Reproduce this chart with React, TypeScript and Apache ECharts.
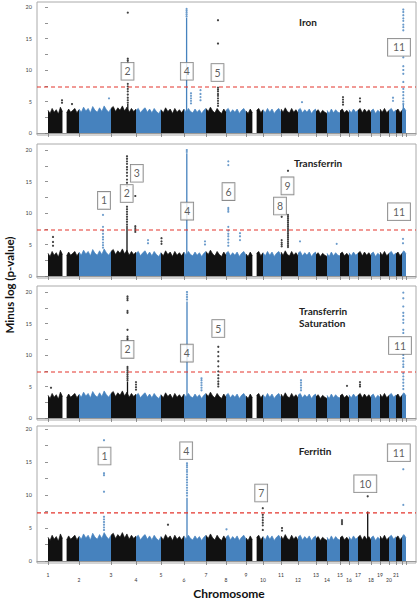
import React, { useEffect, useRef } from 'react';
import * as echarts from 'echarts';

// ---------- data ----------
// relative widths of chromosomes 1..22 on the genome axis
const CHR_SIZES = [31, 32, 25, 25, 23, 22, 20, 20, 17, 18, 17, 18, 11, 13, 9, 9, 13, 9, 9, 7, 6, 4];
const CHR_LABELS = ['1','2','3','4','5','6','7','8','9','10','11','12','13','14','15','16','17','18','19','20','21'];

// upper envelope (-log10 p) of the dense SNP cloud, per chromosome (null = gap)
const BG_HEIGHTS: (number | null)[][] = [
  [3.6, 3.1, 3.9, 3.3, 3.7, 3.0, 4.1, 3.4, null, 3.2, 3.8, 3.3, 3.6, 3.9, 3.2, 3.7],
  [3.8, 3.3, 4.1, 3.5, 3.9, 3.2, 4.2, 3.6, 3.3, 4.0, 3.4, 4.3, 3.7, 3.3, 3.9],
  [3.9, 4.2, 3.4, 4.0, 3.6, 4.3, 3.5, 4.1, 3.3, 3.9, 3.4, 3.8],
  [3.6, 3.9, 3.2, 3.7, 4.0, 3.3, 3.8, 3.2, 3.9, 3.4, 3.1, 3.7],
  [3.7, 3.2, 4.0, 3.4, 3.8, 3.1, 3.9, 3.3, 3.7, 3.2, 3.8],
  [3.8, 3.3, 3.9, 3.4, 3.2, 3.8, 3.3, 3.7, 3.1, 3.6, 3.9],
  [3.9, 3.4, 4.1, 3.5, 3.2, 3.9, 3.4, 3.1, 3.8, 3.3],
  [3.6, 3.9, 3.2, 3.7, 3.3, 3.8, 3.1, 3.6, 3.9, 3.3],
  [3.5, 3.1, 3.8, 3.2, null, 3.6, 3.9, 3.2, 3.7],
  [3.7, 3.2, 3.9, 3.3, 3.8, 3.1, 3.6, 3.9, 3.3],
  [3.8, 3.3, 4.0, 3.4, 3.2, 3.9, 3.3, 3.7, 3.2],
  [3.6, 3.9, 3.2, 3.7, 3.3, 3.8, 3.1, 3.6, 3.8],
  [3.4, 3.7, 3.1, 3.6, 3.3, 3.1],
  [3.6, 3.1, 3.8, 3.2, 3.7, 3.3, 3.2],
  [3.5, 3.8, 3.2, 3.6, 3.2],
  [3.7, 3.2, 3.8, 3.3, 3.6],
  [3.6, 3.9, 3.2, 3.8, 3.3, 3.7, 3.2],
  [3.5, 3.8, 3.1, 3.6, 3.3],
  [3.8, 3.3, 3.9, 3.2, 3.6],
  [3.6, 3.9, 3.3, 3.7],
  [3.5, 3.8, 3.2, 3.6],
  [3.7, 4.0, 3.5],
];

const PANEL_NAMES = ['Iron', 'Transferrin', 'Transferrin\nSaturation', 'Ferritin'];
const Y_MAX = 20;
const GW_THRESHOLD = 7.3;

// hits: [chromosome, position within chromosome, isolated -log p values, solid runs [lo, hi]]
type Hit = [number, number, number[], number[][]];

const IRON_HITS: Hit[] = [
  [3, 16.8, [19.1, 11.8, 11.5, 11.2, 7.8, 7.4, 7.0, 6.6, 6.1, 5.6, 5.2, 4.8], [[3, 4.6]]],
  [6, 2.6, [19.7, 19.4, 19.1, 18.8, 18.5], [[3, 18.3]]],
  [6, 7, [6.3, 5.9, 5.5, 5.1, 4.7], []],
  [6, 16.5, [6.8, 6.2, 5.7, 5.2], []],
  [7, 12, [17.9, 14.2, 7.2, 6.9, 6.6, 6.2, 5.9, 5.5, 5.1, 4.7, 4.3], []],
  [22, 1.3, [19.6, 19.2, 18.7, 18.2, 17.8, 17.2, 16.8, 16.3, 12.0, 10.6, 10.0, 9.4, 8.1, 7.0, 6.5, 6.0, 5.5, 5.0, 4.6], [[3, 4.5]]],
  [15, 3, [5.7, 5.3, 4.9, 4.5], []],
  [17, 2, [5.5, 5.0], []],
  [1, 14, [5.2, 4.8], []],
  [1, 24, [4.6], []],
  [2, 30, [5.5], []],
  [20, 4, [5.6, 5.1], []],
  [12, 4, [4.9], []],
];

const TF_HITS: Hit[] = [
  [1, 5, [6.2, 5.4, 4.8], []],
  [2, 24, [9.7, 7.8, 7.2, 6.7, 6.2, 5.8, 5.3, 4.9, 4.5], []],
  [3, 16, [19.0, 18.6, 18.2, 17.8, 17.3, 16.9, 16.4, 15.9, 15.3, 14.8, 14.3, 11.0, 10.6, 10.2, 9.8, 9.4, 9.0, 8.6, 8.2], [[3, 8.0]]],
  [3, 24.3, [12.7, 7.9, 7.6, 7.3, 7.0], []],
  [4, 12, [5.7, 5.2], []],
  [5, 0.5, [6.0, 5.5, 5.1], []],
  [6, 2.8, [20.0, 19.7], [[3, 19.5]]],
  [6, 21, [5.5, 5.0], []],
  [8, 2.3, [18.2, 17.6, 10.8, 10.5, 10.2, 7.8, 7.2, 6.7, 6.3, 5.8, 5.3, 4.8], []],
  [8, 14, [6.8, 6.3, 5.7], []],
  [11, 7, [16.7, 9.7, 9.4, 9.1, 8.8, 8.5, 8.2, 7.9, 7.6, 7.3, 7.0, 6.7, 6.4, 6.1, 5.8, 5.5, 5.2, 4.9, 4.6], []],
  [11, 0.7, [9.4, 5.7, 5.3, 5.0, 4.7], []],
  [12, 2, [5.5], []],
  [14, 9.7, [5.1], []],
  [22, 1, [5.9, 5.2], []],
];

const TSAT_HITS: Hit[] = [
  [3, 16.5, [19.3, 19.0, 18.7, 17.0, 16.7, 14.0, 12.9, 12.6, 12.4, 8.1, 7.8, 7.5, 7.2, 6.9, 6.6, 6.3, 6.0], [[3, 5.8]]],
  [3, 25, [5.7, 5.3, 4.9, 4.5], []],
  [6, 3, [20.0, 19.6, 19.2, 18.8], [[3, 18.5]]],
  [6, 17.5, [6.3, 6.0, 5.6, 5.2, 4.8, 4.4], []],
  [7, 12.3, [11.3, 10.5, 9.8, 9.0, 8.2, 7.4, 6.8, 6.3, 5.8, 5.4, 5.0], []],
  [12, 3, [6.0, 5.6, 5.2, 4.8, 4.4], []],
  [17, 2, [5.7, 5.3, 5.0], []],
  [22, 1.3, [19.9, 19.0, 17.7, 16.7, 16.2, 15.6, 15.1, 14.0, 13.5, 10.0, 9.5, 9.0, 8.5, 8.1, 7.1, 6.6, 6.1, 5.6, 5.1, 4.6], []],
  [1, 3, [4.8], []],
  [15, 7, [5.1], []],
];

const FERRITIN_HITS: Hit[] = [
  [2, 25, [18.3, 13.3, 13.0, 10.5, 6.7, 6.3, 5.9, 5.5, 5.1, 4.7], []],
  [6, 3, [14.8, 14.5, 14.2, 13.8, 13.5, 13.1, 12.7, 12.3, 11.9, 11.5, 11.1, 10.7, 10.3, 9.9], [[3, 9.6]]],
  [9, 16.8, [8.0, 7.0, 6.6, 6.2, 5.8, 5.4, 4.7], []],
  [17, 9.7, [9.8], [[3, 7.5]]],
  [22, 1.3, [13.9, 8.5], []],
  [15, 2, [6.2, 5.9, 5.6], []],
  [11, 1, [5.0, 4.6], []],
  [5, 7, [5.5], []],
  [8, 0.5, [4.8], []],
];

// locus boxes: [text, chromosome, position within chromosome, -log p at box centre]
type Lab = [string, number, number, number];
const IRON_LABELS: Lab[] = [['2', 3, 16.5, 9.8], ['4', 6, 2.8, 9.8], ['5', 7, 11.5, 9.6], ['11', 21, 3, 13.6]];
const TF_LABELS: Lab[] = [['1', 2, 25, 12.0], ['2', 3, 15.7, 13.1], ['3', 4, 0.8, 16.3], ['4', 6, 3.2, 10.3], ['6', 8, 2.5, 13.4], ['8', 10, 17, 11.1], ['9', 11, 6.5, 14.3], ['11', 21, 3, 10.2]];
const TSAT_LABELS: Lab[] = [['2', 3, 16.5, 10.9], ['4', 6, 2.8, 10.3], ['5', 7, 12.3, 14.2], ['11', 21, 4, 11.5]];
const FERRITIN_LABELS: Lab[] = [['1', 2, 25.5, 15.9], ['4', 6, 2.2, 16.7], ['7', 9, 15.2, 10.3], ['10', 17, 7.3, 11.7], ['11', 21, 2.8, 16.4]];

const PANEL_HITS = [IRON_HITS, TF_HITS, TSAT_HITS, FERRITIN_HITS];
const PANEL_LABELS = [IRON_LABELS, TF_LABELS, TSAT_LABELS, FERRITIN_LABELS];

// ---------- layout / style ----------
const LAYOUT = [
  { top: 7, height: 126, frameTop: 2, frameBottom: 135, title: { x: 308, y: 22, align: 'center' } },
  { top: 150, height: 126, frameTop: 144, frameBottom: 278, title: { x: 318, y: 163, align: 'center' } },
  { top: 292, height: 126, frameTop: 286, frameBottom: 420, title: { x: 299, y: 317, align: 'left' } },
  { top: 429, height: 132, frameTop: 426, frameBottom: 563, title: { x: 315, y: 451, align: 'center' } },
];
const FRAME_LEFT = 37;
const FRAME_RIGHT = 416;
const X_MIN = -11;
const X_MAX = 368;
const BLACK = '#111111';
const BLUE = '#4682be';
const RED = '#e3342c';
const FONT = 'Lato, "Open Sans", sans-serif';

const STARTS: number[] = [];
{
  let acc = 0;
  CHR_SIZES.forEach((s) => { STARTS.push(acc); acc += s; });
}
const GENOME_END = STARTS[STARTS.length - 1] + CHR_SIZES[CHR_SIZES.length - 1];
const colorOf = (chr: number) => (chr % 2 === 1 ? BLACK : BLUE);

function bgData(parity: number) {
  const out: (number | null)[][] = [];
  CHR_SIZES.forEach((size, c) => {
    if (c % 2 !== parity) return;
    const h = BG_HEIGHTS[c];
    const n = h.length;
    h.forEach((v, j) => out.push([STARTS[c] + (j * size) / (n - 1), v]));
    out.push([STARTS[c] + size, null]);
  });
  return out;
}

function buildOption() {
  const grid: any[] = [];
  const xAxis: any[] = [];
  const yAxis: any[] = [];
  const series: any[] = [];
  const graphic: any[] = [];
  const tickValues = [...STARTS, GENOME_END];

  LAYOUT.forEach((L, i) => {
    grid.push({ left: FRAME_LEFT, width: FRAME_RIGHT - FRAME_LEFT, top: L.top, height: L.height });
    xAxis.push({
      gridIndex: i, type: 'value', min: X_MIN, max: X_MAX, offset: 2,
      axisLine: { show: true, lineStyle: { color: '#999', width: 1 } },
      axisTick: { show: true, customValues: tickValues, length: 4, lineStyle: { color: '#777', width: 0.8 } },
      axisLabel: {
        show: i === 3, customValues: STARTS.slice(0, 21), fontSize: 5, color: '#333', margin: 9,
        lineHeight: 5, fontFamily: FONT,
        formatter: (v: number) => {
          const idx = STARTS.indexOf(v);
          if (idx < 0 || idx > 20) return '';
          return idx % 2 === 0 ? CHR_LABELS[idx] : '\n' + CHR_LABELS[idx];
        },
      },
      splitLine: { show: false },
    });
    yAxis.push({
      gridIndex: i, type: 'value', min: 0, max: Y_MAX, interval: 2.5,
      axisLine: { show: false },
      axisTick: { show: true, length: 3, lineStyle: { color: '#777', width: 0.8 } },
      axisLabel: { fontSize: 5.5, color: '#444', margin: 5, fontFamily: FONT, formatter: (v: number) => (v % 5 === 0 ? String(v) : '') },
      splitLine: { show: false },
    });

    [0, 1].forEach((parity) => {
      const col = parity === 0 ? BLACK : BLUE;
      series.push({
        type: 'line', xAxisIndex: i, yAxisIndex: i, data: bgData(parity), symbol: 'none',
        connectNulls: false, silent: true, z: 1,
        lineStyle: { color: col, width: 0.7 }, areaStyle: { color: col, opacity: 1 },
      });
    });

    const hits = PANEL_HITS[i];
    hits.forEach(([chr, pos, , runs]) => {
      const x = STARTS[chr - 1] + pos;
      runs.forEach(([lo, hi]) => {
        series.push({
          type: 'line', xAxisIndex: i, yAxisIndex: i, data: [[x, lo], [x, hi]], symbol: 'none', silent: true, z: 2,
          lineStyle: { color: colorOf(chr), width: 1.3 },
        });
      });
    });
    [1, 0].forEach((odd) => {
      const pts: number[][] = [];
      hits.forEach(([chr, pos, dots]) => {
        if (chr % 2 !== odd) return;
        dots.forEach((v) => pts.push([STARTS[chr - 1] + pos, v]));
      });
      series.push({
        type: 'scatter', xAxisIndex: i, yAxisIndex: i, data: pts, symbolSize: 2.2, silent: true, z: 3,
        itemStyle: { color: odd ? BLACK : BLUE },
      });
    });

    // genome-wide significance line
    series.push({
      type: 'line', xAxisIndex: i, yAxisIndex: i, symbol: 'none', silent: true, z: 4,
      data: [[X_MIN, GW_THRESHOLD], [X_MAX, GW_THRESHOLD]],
      itemStyle: { color: RED },
      lineStyle: { color: RED, type: [4, 3], width: 1.2 },
    });

    // locus number boxes
    series.push({
      type: 'scatter', xAxisIndex: i, yAxisIndex: i, symbolSize: 1, silent: true, z: 10,
      itemStyle: { color: 'rgba(0,0,0,0)' },
      data: PANEL_LABELS[i].map(([t, chr, pos, y]) => ({
        value: [STARTS[chr - 1] + pos, y],
        name: t,
        label: { padding: [2, t.length > 1 ? 5 : 3] },
      })),
      label: {
        show: true, position: 'inside', formatter: (p: any) => p.name,
        fontSize: 10.5, lineHeight: 13, color: '#333', fontFamily: FONT,
        backgroundColor: '#fff', borderColor: '#666', borderWidth: 0.8,
      },
    });

    graphic.push({
      type: 'rect', silent: true, z: 0,
      shape: { x: FRAME_LEFT, y: L.frameTop, width: FRAME_RIGHT - FRAME_LEFT, height: L.frameBottom - L.frameTop },
      style: { fill: 'none', stroke: '#aaa', lineWidth: 1 },
    });
    graphic.push({
      type: 'text', silent: true, x: L.title.x, y: L.title.y, z: 20,
      style: {
        text: PANEL_NAMES[i], fontSize: 10, fontWeight: 'bold', fontFamily: FONT, fill: '#222',
        align: L.title.align, verticalAlign: 'middle', lineHeight: 12,
      },
    });
  });

  graphic.push({
    type: 'text', silent: true, x: 9, y: 285, rotation: Math.PI / 2,
    style: { text: 'Minus log (p-value)', fontSize: 11.5, fontWeight: 'bold', fontFamily: FONT, fill: '#111', align: 'center', verticalAlign: 'middle' },
  });
  graphic.push({
    type: 'text', silent: true, x: 229, y: 593,
    style: { text: 'Chromosome', fontSize: 12, fontWeight: 'bold', fontFamily: FONT, fill: '#111', align: 'center', verticalAlign: 'middle' },
  });

  return { animation: false, backgroundColor: '#fff', grid, xAxis, yAxis, series, graphic };
}

export default function App() {
  const ref = useRef<HTMLDivElement>(null);
  useEffect(() => {
    if (!ref.current) return;
    const chart = echarts.init(ref.current, null, { renderer: 'svg' });
    chart.setOption(buildOption() as any);
    return () => chart.dispose();
  }, []);
  return <div ref={ref} style={{ position: 'absolute', left: 0, top: 0, width: 418, height: 600 }} />;
}
